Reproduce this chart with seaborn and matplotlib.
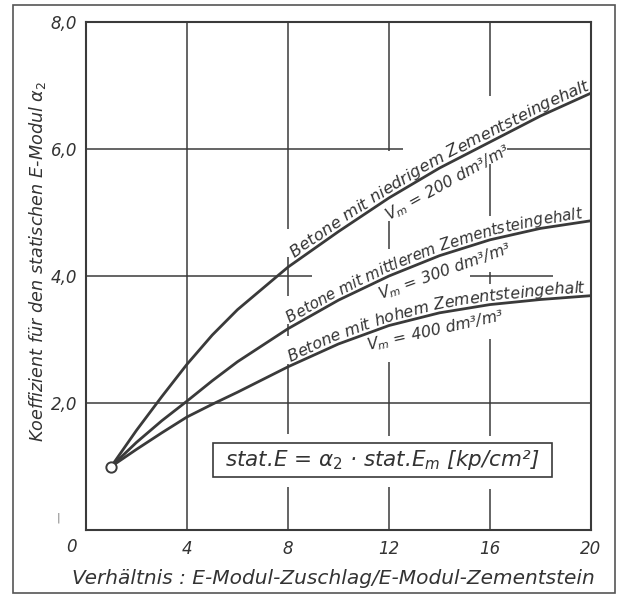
import numpy as np
import pandas as pd
import matplotlib
matplotlib.use("Agg")
import matplotlib.pyplot as plt
import seaborn as sns
from matplotlib.patches import Rectangle
from matplotlib.transforms import IdentityTransform

# ---------------- data ----------------
ratio = [1, 2, 3, 4, 5, 6, 8, 10, 12, 14, 16, 18, 20]
alpha_low_cement = [1.00, 1.57, 2.10, 2.61, 3.07, 3.47, 4.14, 4.70, 5.23, 5.70, 6.11, 6.52, 6.88]
alpha_mid_cement = [1.00, 1.38, 1.72, 2.03, 2.35, 2.65, 3.17, 3.62, 4.00, 4.32, 4.57, 4.75, 4.87]
alpha_high_cement = [1.00, 1.27, 1.53, 1.78, 1.98, 2.17, 2.57, 2.93, 3.22, 3.42, 3.55, 3.63, 3.69]

series_names = [
    "Betone mit niedrigem Zementsteingehalt",
    "Betone mit mittlerem Zementsteingehalt",
    "Betone mit hohem Zementsteingehalt",
]
vm_labels = [
    r"$V_m$ = 200 dm³/m³",
    r"$V_m$ = 300 dm³/m³",
    r"$V_m$ = 400 dm³/m³",
]
xtick_values = [4, 8, 12, 16, 20]
xtick_labels = ["4", "8", "12", "16", "20"]
ytick_values = [2, 4, 6, 8]
ytick_labels = ["2,0", "4,0", "6,0", "8,0"]
x_label = "Verhältnis : E-Modul-Zuschlag/E-Modul-Zementstein"
y_label = r"Koeffizient für den statischen E-Modul $\alpha_2$"
formula = r"stat.E = $\alpha_2$ · stat.$E_m$ [kp/cm²]"

# ---------------- style ----------------
sns.set_style("white")
plt.rcParams["font.family"] = ["DejaVu Sans"]
plt.rcParams["mathtext.fontset"] = "dejavusans"
ink = "#3a3a3a"
txt = "#333333"

W, H = 618, 596
fig = plt.figure(figsize=(W / 100, H / 100), dpi=100)
fig.patch.set_facecolor("white")
ax = fig.add_axes([86 / W, 66 / H, 505 / W, 508 / H])
ax.set_xlim(0, 20)
ax.set_ylim(0, 8)

# broken grid (gaps where the lettering sits)
vgrid = {
    4: [(0, 8)],
    8: [(4.74, 8), (3.69, 4.30), (3.06, 3.24), (1.51, 2.61), (0, 0.68)],
    12: [(5.97, 8), (4.43, 4.87), (1.48, 2.65), (0, 0.68)],
    16: [(6.83, 8), (4.94, 5.76), (3.87, 4.06), (1.48, 3.01), (0, 0.65)],
}
hgrid = {
    2: [(0, 20)],
    4: [(0, 8.95), (15.2, 18.5)],
    6: [(0, 12.55), (16.67, 20)],
}
for xv, segs in vgrid.items():
    for a, b in segs:
        ax.vlines(xv, a, b, color=ink, lw=1.1, zorder=1)
for yv, segs in hgrid.items():
    for a, b in segs:
        ax.hlines(yv, a, b, color=ink, lw=1.1, zorder=1)

# curves
df = pd.concat([
    pd.DataFrame({"ratio": ratio, "alpha": vals, "series": name})
    for name, vals in zip(series_names, [alpha_low_cement, alpha_mid_cement, alpha_high_cement])
])
sns.lineplot(data=df, x="ratio", y="alpha", hue="series", hue_order=series_names,
             palette=[ink] * 3, legend=False, linewidth=2.0, ax=ax, zorder=3)
sns.scatterplot(x=[ratio[0]], y=[alpha_low_cement[0]], marker="o", s=55,
                facecolor="white", edgecolor=ink, linewidth=1.4, ax=ax, zorder=5)

# spines / ticks
for sp in ax.spines.values():
    sp.set_visible(True)
    sp.set_color(ink)
    sp.set_linewidth(1.5)
ax.set_xticks(xtick_values)
ax.set_xticklabels(xtick_labels)
ax.set_yticks(ytick_values)
ax.set_yticklabels(ytick_labels)
ax.tick_params(length=0, labelsize=12, colors=txt)
ax.tick_params(axis="x", pad=7.5)
ax.tick_params(axis="y", pad=6.5)
for lab in ax.get_xticklabels() + ax.get_yticklabels():
    lab.set_style("italic")
ax.text(-0.028, -0.033, "0", transform=ax.transAxes, ha="center", va="center",
        fontsize=12, style="italic", color=txt)
ax.set_xlabel(x_label, fontsize=14.5, style="italic", color=txt)
ax.xaxis.set_label_coords(0.49, -0.077)
ax.set_ylabel(y_label, fontsize=12.7, style="italic", color=txt)
ax.yaxis.set_label_coords(-0.075, 0.528)

# formula box
ax.add_patch(Rectangle((0.2515, 0.104), 0.6715, 0.067, transform=ax.transAxes,
                       facecolor="white", edgecolor=ink, lw=1.2, zorder=4))
ax.text(0.5875, 0.1375, formula, transform=ax.transAxes, ha="center", va="center",
        fontsize=15.5, style="italic", color=txt, zorder=6)

# outer frame
fig.patches.append(Rectangle((13 / W, 3 / H), (615 - 13) / W, (591 - 3) / H,
                             transform=fig.transFigure, fill=False, ec="#555555", lw=1.2))
fig.text(58 / W, 1 - 518 / H, "|", fontsize=8, color="#777777", ha="center", va="center")

renderer = fig.canvas.get_renderer()


def text_width(s, fs):
    t = fig.text(0, 0, s, fontsize=fs, style="italic")
    w = t.get_window_extent(renderer).width
    t.remove()
    return w


def curve_geometry(xs, ys):
    pts = ax.transData.transform(np.column_stack([xs, ys]))
    seg = np.diff(pts, axis=0)
    seglen = np.hypot(seg[:, 0], seg[:, 1])
    cum = np.concatenate([[0], np.cumsum(seglen)])
    sang = np.arctan2(seg[:, 1], seg[:, 0])
    vang = np.concatenate([[sang[0]], (sang[:-1] + sang[1:]) / 2, [sang[-1]]])
    return pts, seg, seglen, cum, vang


def point_at(geom, s):
    pts, seg, seglen, cum, vang = geom
    k = int(np.clip(np.searchsorted(cum, s) - 1, 0, len(seg) - 1))
    f = (s - cum[k]) / seglen[k]
    p = pts[k] + f * seg[k]
    ang = np.interp(s, cum, vang)
    return p, ang


def curved_label(xs, ys, text, x_start, offset, fs):
    geom = curve_geometry(xs, ys)
    pts, _, _, cum, _ = geom
    p0 = ax.transData.transform((x_start, np.interp(x_start, xs, ys)))
    s0 = np.interp(p0[0], pts[:, 0], cum)
    for i, ch in enumerate(text):
        if ch == " ":
            continue
        right = text_width(text[: i + 1], fs)
        cw = text_width(ch, fs)
        s = s0 + right - cw / 2
        p, ang = point_at(geom, s)
        n = np.array([-np.sin(ang), np.cos(ang)])
        q = p + offset * n
        fig.text(q[0], q[1], ch, transform=IdentityTransform(), rotation=np.degrees(ang),
                 rotation_mode="anchor", ha="center", va="baseline", fontsize=fs,
                 style="italic", color=txt, zorder=6)


def straight_label(xs, ys, text, x_center, offset, fs):
    geom = curve_geometry(xs, ys)
    pts, _, _, cum, _ = geom
    pc = ax.transData.transform((x_center, np.interp(x_center, xs, ys)))
    s = np.interp(pc[0], pts[:, 0], cum)
    p, ang = point_at(geom, s)
    n = np.array([-np.sin(ang), np.cos(ang)])
    q = p + offset * n
    fig.text(q[0], q[1], text, transform=IdentityTransform(), rotation=np.degrees(ang),
             rotation_mode="anchor", ha="center", va="center", fontsize=fs,
             style="italic", color=txt, zorder=6)


curves = [alpha_low_cement, alpha_mid_cement, alpha_high_cement]
label_starts = [8.35, 8.15, 8.15]
label_sizes = [11.8, 10.9, 11.4]
vm_centers = [14.0, 14.0, 13.7]
for vals, name, start, fs in zip(curves, series_names, label_starts, label_sizes):
    curved_label(ratio, vals, name, start, 4.0, fs)
for vals, lab, xc in zip(curves, vm_labels, vm_centers):
    straight_label(ratio, vals, lab, xc, -16.5, 11.3)

fig.savefig("out.png", dpi=100, facecolor="white")
